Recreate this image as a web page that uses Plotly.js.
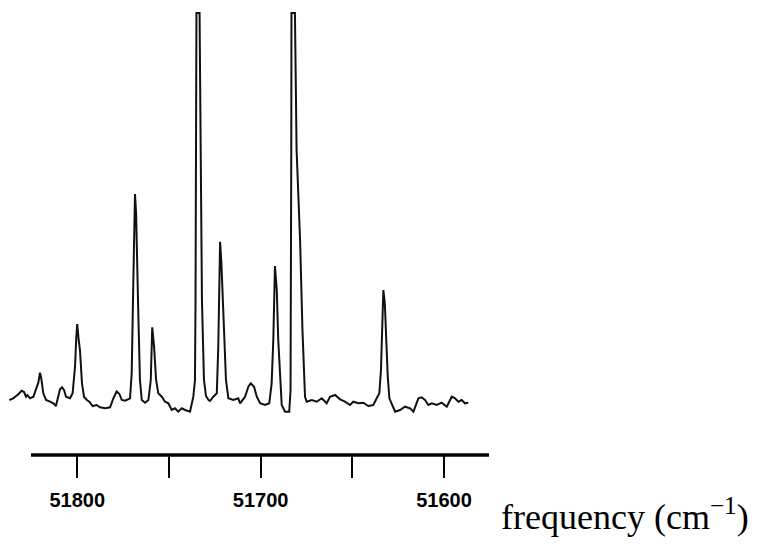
<!DOCTYPE html>
<html>
<head>
<meta charset="utf-8">
<script src="https://cdn.plot.ly/plotly-3.0.1.min.js"></script>
<style>html,body{margin:0;padding:0;background:#fff;}#chart{width:768px;height:553px;}</style>
</head>
<body>
<div id="chart"></div>
<script>
// frequency (cm^-1) and relative intensity (arb. units)
const frequency = [
51837.0,51834.9,51832.1,51830.3,51829.0,51827.9,51827.2,51825.7,51823.9,51822.5,
51821.2,51820.3,51819.6,51818.5,51817.0,51814.8,51813.0,51811.6,51810.3,51809.4,
51808.3,51807.2,51806.1,51803.9,51802.5,51801.2,51800.5,51800.0,51799.2,51798.5,
51797.4,51796.3,51794.8,51793.4,51791.6,51789.4,51787.6,51784.8,51782.1,51780.3,
51778.5,51777.0,51775.7,51773.9,51771.2,51770.3,51769.4,51768.5,51767.9,51767.6,
51766.7,51765.8,51764.8,51763.0,51761.2,51759.9,51759.1,51758.1,51757.0,51755.8,
51753.9,51752.1,51750.3,51748.5,51746.7,51744.9,51743.0,51741.2,51738.5,51736.7,
51735.8,51735.5,51735.2,51735.0,51733.3,51732.8,51732.0,51730.9,51729.8,51728.4,
51727.6,51725.8,51723.9,51723.1,51722.5,51722.1,51721.4,51720.3,51718.9,51717.6,
51714.9,51712.2,51711.2,51708.5,51706.7,51705.4,51703.6,51702.1,51700.3,51697.6,
51695.3,51694.0,51693.1,51692.2,51691.2,51690.4,51689.4,51688.5,51686.7,51684.4,
51683.7,51683.4,51683.3,51683.2,51681.3,51680.4,51678.5,51677.2,51675.8,51674.9,
51672.1,51669.4,51666.7,51664.0,51662.2,51659.4,51656.7,51654.0,51651.3,51649.5,
51646.7,51644.0,51641.3,51638.6,51636.7,51635.3,51634.4,51633.6,51633.1,51632.3,
51631.6,51630.7,51629.8,51628.5,51626.7,51624.0,51621.3,51618.5,51616.7,51614.0,
51612.2,51610.4,51608.6,51606.7,51604.0,51601.3,51598.5,51595.8,51594.0,51592.2,
51590.4,51588.6,51586.8
];
const intensity = [
0.20,0.37,0.77,1.13,1.00,0.53,0.70,0.37,0.53,1.37,
1.93,2.93,2.37,0.87,0.20,0.03,-0.13,-0.40,0.53,1.27,
1.47,1.20,0.53,0.37,0.87,3.53,6.53,7.80,6.20,5.20,
1.87,0.53,0.20,0.03,-0.40,-0.30,-0.53,-0.63,-0.53,0.37,
1.05,0.80,0.20,0.13,0.37,2.87,12.20,20.80,18.87,15.53,
8.87,2.20,0.20,-0.07,0.20,2.20,7.47,5.53,2.20,0.87,
0.53,0.03,-0.13,-0.80,-0.63,-0.97,-0.63,-0.80,-0.97,0.53,
2.20,10.20,25.20,38.90,38.90,25.20,10.20,2.20,0.60,0.20,
0.10,0.53,0.87,5.53,12.20,16.03,13.90,8.87,2.20,0.37,
0.20,0.37,-0.13,0.53,1.53,1.87,1.53,0.53,-0.13,-0.30,
-0.13,1.87,6.20,13.60,11.20,6.20,2.20,-0.30,-0.97,-0.97,
1.20,10.20,25.20,38.90,38.90,25.20,16.20,7.20,0.53,0.03,
0.20,0.03,0.37,-0.13,0.53,0.70,0.27,0.03,-0.30,0.03,
-0.13,-0.07,-0.40,-0.30,0.37,0.87,3.20,7.20,11.20,9.87,
6.53,2.53,0.37,-0.13,-0.97,-0.80,-0.47,-0.63,-0.97,0.37,
0.47,0.20,-0.30,-0.13,-0.30,-0.07,-0.47,0.53,0.37,0.03,
0.20,-0.13,-0.07
];
const labeledTicks = [51800, 51700, 51600];
const tickLabels = ["51800", "51700", "51600"];
const tickStep = 50;
const axisSpan = [51825.2, 51575.5];
const xTitle = "frequency (cm<sup>\u22121</sup>)";

const trace = {
  x: frequency, y: intensity, type: 'scatter', mode: 'lines',
  line: {color: '#111', width: 2}, hoverinfo: 'skip'
};

const layout = {
  width: 768, height: 553,
  margin: {l: 0, r: 279, t: 0, b: 98},
  paper_bgcolor: '#fff', plot_bgcolor: '#fff',
  showlegend: false,
  xaxis: {
    range: [51842.1, 51575.5],
    showgrid: false, zeroline: false, showline: false,
    tickmode: 'array', tickvals: labeledTicks, ticktext: tickLabels,
    ticks: 'outside', ticklen: 22, tickwidth: 2, tickcolor: '#000',
    ticklabelstandoff: 5,
    tickfont: {family: 'Liberation Sans, Arial, sans-serif', size: 20, color: '#000', weight: 700},
    minor: {ticks: 'outside', ticklen: 22, tickwidth: 2, tickcolor: '#000',
            dtick: tickStep, tick0: labeledTicks[0], showgrid: false}
  },
  yaxis: {range: [-5.3, 40.2], visible: false},
  shapes: [{
    type: 'line', xref: 'x', yref: 'paper',
    x0: axisSpan[0], x1: axisSpan[1], y0: 0, y1: 0,
    line: {color: '#000', width: 3.5}
  }],
  annotations: [{
    text: xTitle, xref: 'paper', yref: 'paper',
    x: 1.02, y: -0.13, xanchor: 'left', yanchor: 'middle',
    showarrow: false,
    font: {family: 'Liberation Serif, Times New Roman, serif', size: 36, color: '#000'}
  }]
};

Plotly.newPlot('chart', [trace], layout, {staticPlot: true, displayModeBar: false});
</script>
</body>
</html>
